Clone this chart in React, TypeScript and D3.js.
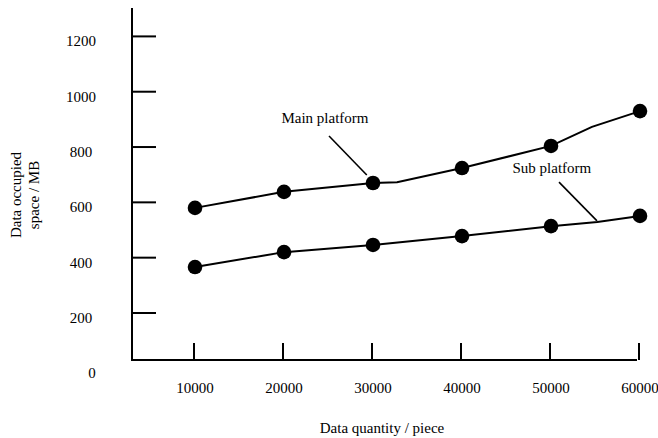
import React from "react";
import * as d3 from "d3";

// ---- data ----
const xTicks = [10000, 20000, 30000, 40000, 50000, 60000];
const yTicks = [200, 400, 600, 800, 1000, 1200];
const yZeroLabel = "0";

// marker points
const mainX = [10000, 20000, 30000, 40000, 50000, 60000];
const mainY = [580, 638, 670, 724, 804, 930];
const subX = [10000, 20000, 30000, 40000, 50000, 60000];
const subY = [366, 420, 446, 478, 514, 551];

// full line vertices (incl. bends between markers)
const mainLineX = [10000, 20000, 30000, 32700, 40000, 50000, 54600, 60000];
const mainLineY = [580, 638, 670, 673, 724, 804, 873, 930];
const subLineX = [10000, 20000, 30000, 40000, 50000, 55200, 60000];
const subLineY = [366, 420, 446, 478, 514, 529, 551];

const annotationLabels = ["Main platform", "Sub platform"];
const annotationText = [24600, 50100];
const annotationTextY = [887, 706];
const leaderFromX = [25060, 50900];
const leaderFromY = [840, 673];
const leaderToX = [29300, 55170];
const leaderToY = [699, 533];

const xTitle = "Data quantity / piece";
const yTitleLines = ["Data occupied", "space / MB"];

export default function App() {
  const W = 658;
  const H = 438;
  const x = d3.scaleLinear().domain([10000, 60000]).range([195, 640]);
  const y = d3.scaleLinear().domain([0, 1200]).range([368.3, 36.4]);
  const axisLeft = 132;
  const axisBottom = 360;
  const font = "'Liberation Serif', 'Times New Roman', serif";

  const line = d3
    .line<[number, number]>()
    .x((d) => x(d[0]))
    .y((d) => y(d[1]));
  const mainPts = mainLineX.map((v, i) => [v, mainLineY[i]] as [number, number]);
  const subPts = subLineX.map((v, i) => [v, subLineY[i]] as [number, number]);

  return (
    <svg
      width={W}
      height={H}
      style={{ position: "absolute", left: 0, top: 0, background: "#fff" }}
      fontFamily={font}
    >
      {/* axes */}
      <line x1={axisLeft} y1={8} x2={axisLeft} y2={axisBottom + 1} stroke="#000" strokeWidth={2} />
      <line x1={axisLeft - 1} y1={axisBottom} x2={x(60000) - 3} y2={axisBottom} stroke="#000" strokeWidth={2} />
      {yTicks.map((t) => (
        <g key={"y" + t}>
          <line x1={axisLeft} x2={156} y1={y(t)} y2={y(t)} stroke="#000" strokeWidth={2} />
          <text x={81} y={y(t) + 10} fontSize={15} textAnchor="middle" fill="#000">
            {t}
          </text>
        </g>
      ))}
      <text x={92} y={y(0) + 10} fontSize={15} textAnchor="middle" fill="#000">
        {yZeroLabel}
      </text>
      {xTicks.map((t) => (
        <g key={"x" + t}>
          <line x1={x(t) - 1} x2={x(t) - 1} y1={axisBottom} y2={343} stroke="#000" strokeWidth={2} />
          <text x={x(t)} y={393} fontSize={15} textAnchor="middle" fill="#000">
            {t}
          </text>
        </g>
      ))}

      {/* series lines */}
      <path d={line(mainPts) || ""} fill="none" stroke="#000" strokeWidth={2} />
      <path d={line(subPts) || ""} fill="none" stroke="#000" strokeWidth={2} />
      {mainX.map((v, i) => (
        <circle key={"m" + i} cx={x(v)} cy={y(mainY[i])} r={7.3} fill="#000" />
      ))}
      {subX.map((v, i) => (
        <circle key={"s" + i} cx={x(v)} cy={y(subY[i])} r={7.3} fill="#000" />
      ))}

      {/* annotations */}
      {annotationLabels.map((lab, i) => (
        <g key={"a" + i}>
          <text x={x(annotationText[i])} y={y(annotationTextY[i])} fontSize={15} textAnchor="middle" fill="#000">
            {lab}
          </text>
          <line
            x1={x(leaderFromX[i])}
            y1={y(leaderFromY[i])}
            x2={x(leaderToX[i])}
            y2={y(leaderToY[i])}
            stroke="#000"
            strokeWidth={1.6}
          />
        </g>
      ))}

      {/* titles */}
      <text x={382} y={433} fontSize={15} textAnchor="middle" fill="#000">
        {xTitle}
      </text>
      <g transform="translate(0,195) rotate(-90)">
        {yTitleLines.map((l, i) => (
          <text key={l} x={0} y={21 + i * 18} fontSize={15} textAnchor="middle" fill="#000">
            {l}
          </text>
        ))}
      </g>
    </svg>
  );
}
